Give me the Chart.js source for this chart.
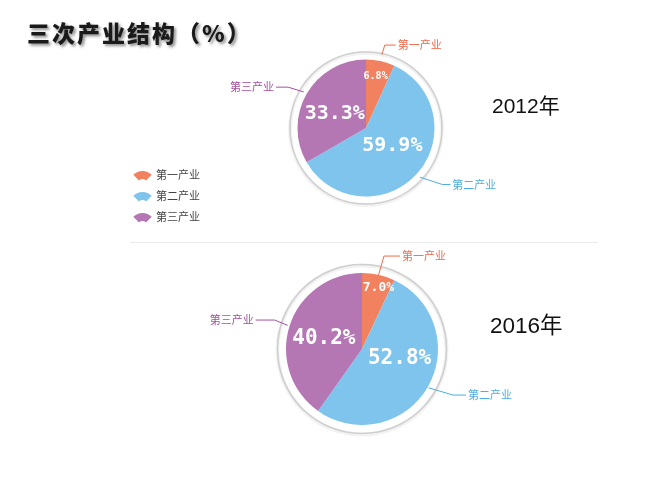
<!DOCTYPE html>
<html><head><meta charset="utf-8">
<script src="https://cdn.jsdelivr.net/npm/chart.js@4.4.0/dist/chart.umd.min.js"></script>
<style>
html,body{margin:0;padding:0;background:#fff;}
#wrap{position:relative;width:650px;height:482px;overflow:hidden;background:#fff;}
canvas{position:absolute;left:0;top:0;}
.title{position:absolute;left:27px;top:17px;font-family:'Noto Sans CJK SC',sans-serif;font-weight:900;font-size:23px;letter-spacing:2px;color:#1a1a1a;text-shadow:2px 2px 3px rgba(0,0,0,0.45);line-height:30px;white-space:nowrap;}
.year{position:absolute;font-family:'Liberation Sans','Noto Sans CJK SC',sans-serif;font-size:21px;line-height:21px;color:#111;white-space:nowrap;}
.sep{position:absolute;left:130px;top:242px;width:468px;height:1px;background:#ececec;}
</style></head><body>
<div id="wrap">
<div class="sep"></div>
<canvas id="c1" width="650" height="482"></canvas>
<canvas id="c2" width="650" height="482"></canvas>
<div class="title">三次产业结构（%）</div>
<div class="year" id="y1" style="left:492px;top:95px"></div>
<div class="year" id="y2" style="left:490px;top:315px;font-size:22.5px;line-height:22px"></div>
</div>
<script>
const categories = ['第一产业', '第二产业', '第三产业'];
const years = ['2012年', '2016年'];
const share2012 = [6.8, 59.9, 33.3];
const share2016 = [7.0, 52.8, 40.2];

const sliceColors = ['#F2825F', '#7EC4EC', '#B477B4'];
const textColors = ['#EE6A4C', '#4FAEE0', '#A5509F'];

document.getElementById('y1').textContent = years[0];
document.getElementById('y2').textContent = years[1];

const annot = {
  id: 'annot',
  beforeDatasetsDraw(chart, args, o) {
    const arc = chart.getDatasetMeta(0).data[0];
    const p = arc.getProps(['x', 'y'], true);
    const ctx = chart.ctx;
    ctx.save();
    ctx.beginPath(); ctx.arc(p.x, p.y + 1, o.ring, 0, Math.PI * 2);
    ctx.strokeStyle = 'rgba(0,0,0,0.05)'; ctx.lineWidth = 4; ctx.stroke();
    ctx.beginPath(); ctx.arc(p.x, p.y, o.ring, 0, Math.PI * 2);
    ctx.strokeStyle = '#cfcfcf'; ctx.lineWidth = 1.6; ctx.stroke();
    ctx.restore();
  },
  afterDatasetsDraw(chart, args, o) {
    const ctx = chart.ctx;
    const meta = chart.getDatasetMeta(0);
    const ds = chart.data.datasets[0];
    meta.data.forEach((arc, i) => {
      const p = arc.getProps(['x', 'y', 'startAngle', 'endAngle', 'outerRadius'], true);
      const mid = (p.startAngle + p.endAngle) / 2;
      const L = o.labels[i];
      const a = mid + L.rot * Math.PI / 180;
      const r = p.outerRadius * L.frac;
      ctx.save();
      ctx.font = `bold ${L.size}px 'DejaVu Sans Mono', monospace`;
      ctx.fillStyle = '#ffffff'; ctx.textAlign = 'center'; ctx.textBaseline = 'middle';
      ctx.fillText(ds.data[i].toFixed(1) + '%', p.x + Math.cos(a) * r, p.y + Math.sin(a) * r);
      const Ld = o.leaders[i];
      const col = textColors[i];
      const a2 = mid + Ld.rot * Math.PI / 180;
      const sx = p.x + Math.cos(mid) * Ld.r0, sy = p.y + Math.sin(mid) * Ld.r0;
      const ex = p.x + Math.cos(a2) * Ld.r1, ey = p.y + Math.sin(a2) * Ld.r1;
      const dir = Math.cos(a2) >= 0 ? 1 : -1;
      const hx = ex + dir * Ld.h;
      ctx.strokeStyle = col; ctx.lineWidth = 1;
      ctx.beginPath(); ctx.moveTo(sx, sy); ctx.lineTo(ex, ey); ctx.lineTo(hx, ey); ctx.stroke();
      ctx.font = "11px 'Noto Sans CJK SC', sans-serif";
      ctx.fillStyle = col; ctx.textAlign = dir > 0 ? 'left' : 'right';
      ctx.fillText(chart.data.labels[i], hx + dir * 2, ey);
      ctx.restore();
    });
    if (o.legend) {
      chart.data.labels.forEach((lab, i) => {
        const cx = 142.5, cy = 184 + i * 21;
        ctx.save();
        ctx.beginPath();
        ctx.arc(cx, cy, 13, -Math.PI * 0.75, -Math.PI * 0.25);
        ctx.arc(cx, cy, 5, -Math.PI * 0.25, -Math.PI * 0.75, true);
        ctx.closePath();
        ctx.fillStyle = sliceColors[i]; ctx.fill();
        ctx.font = "11px 'Noto Sans CJK SC', sans-serif";
        ctx.fillStyle = '#444'; ctx.textAlign = 'left'; ctx.textBaseline = 'middle';
        ctx.fillText(lab, 156, cy - 9);
        ctx.restore();
      });
    }
  }
};

function makePie(id, values, pad, radius, opts) {
  return new Chart(document.getElementById(id), {
    type: 'pie',
    data: { labels: categories, datasets: [{ data: values, backgroundColor: sliceColors, borderWidth: 0, radius: radius }] },
    options: {
      responsive: false, animation: false, devicePixelRatio: 1, events: [],
      layout: { padding: pad },
      plugins: { legend: { display: false }, tooltip: { enabled: false }, annot: opts }
    },
    plugins: [annot]
  });
}

makePie('c1', share2012, { left: 82, right: 0, top: 0, bottom: 226 }, 68.5, {
  ring: 76, legend: true,
  labels: [{ frac: 0.76, rot: -1.6, size: 10 }, { frac: 0.46, rot: -9, size: 20 }, { frac: 0.50, rot: -5.8, size: 20 }],
  leaders: [{ r0: 75, r1: 85, rot: 0.5, h: 11 }, { r0: 73, r1: 95, rot: -5.8, h: 8 }, { r0: 72, r1: 88, rot: -2.4, h: 12 }]
});
makePie('c2', share2016, { left: 74, right: 0, top: 216, bottom: 0 }, 76, {
  ring: 84.5, legend: false,
  labels: [{ frac: 0.83, rot: 2.5, size: 13 }, { frac: 0.51, rot: -16, size: 21 }, { frac: 0.52, rot: -2.3, size: 21 }],
  leaders: [{ r0: 76, r1: 95.5, rot: 0.7, h: 16 }, { r0: 77, r1: 102, rot: -3.4, h: 13 }, { r0: 78, r1: 92, rot: 0.7, h: 19 }]
});
</script>
</body></html>
